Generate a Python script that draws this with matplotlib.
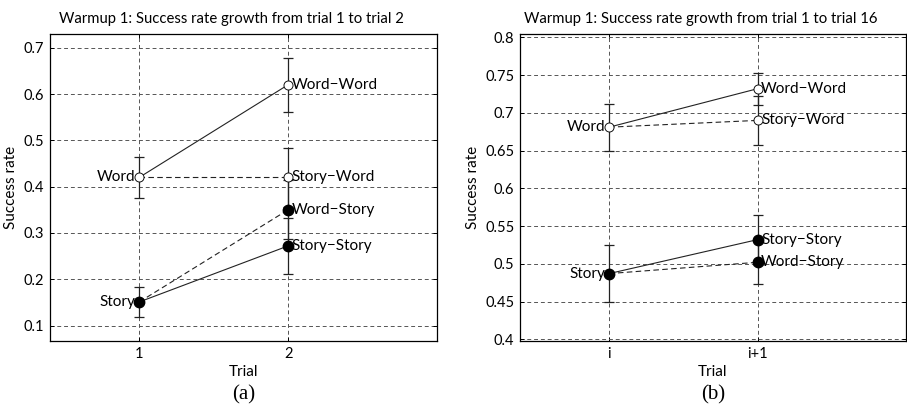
import matplotlib
matplotlib.use('Agg')
import matplotlib.pyplot as plt

plt.rcParams['font.family'] = ['Lato', 'DejaVu Sans']

titles = ['Warmup 1: Success rate growth from trial 1 to trial 2',
          'Warmup 1: Success rate growth from trial 1 to trial 16']
xtick_labels = [['1', '2'], ['i', 'i+1']]
panel_tags = ['(a)', '(b)']

# Panel (a): values at first trial (Word, Story)
start_a = [0.42, 0.151]
start_err_a = [0.044, 0.033]
# values at second trial (Word-Word, Story-Word, Word-Story, Story-Story)
end_a = [0.62, 0.42, 0.35, 0.272]
end_err_a = [0.058, 0.064, 0.064, 0.061]

# Panel (b)
start_b = [0.681, 0.487]
start_err_b = [0.031, 0.038]
end_b = [0.732, 0.690, 0.502, 0.532]
end_err_b = [0.021, 0.032, 0.029, 0.033]

start_names = ['Word', 'Story']
end_names = ['Word\u2212Word', 'Story\u2212Word', 'Word\u2212Story', 'Story\u2212Story']
# which start point each end point is joined to, and the line style
end_from = [0, 0, 1, 1]
end_style = ['-', '--', '--', '-']
end_filled = [False, False, True, True]
start_filled = [False, True]

yticks_a = [0.1, 0.2, 0.3, 0.4, 0.5, 0.6, 0.7]
yticks_b = [0.4, 0.45, 0.5, 0.55, 0.6, 0.65, 0.7, 0.75, 0.8]

fig = plt.figure(figsize=(9.07, 4.09), dpi=100)
ax_a = fig.add_axes([0.0551, 0.1663, 0.4267, 0.7506])
ax_b = fig.add_axes([0.5733, 0.1663, 0.4256, 0.7506])

panels = [
    (ax_a, start_a, start_err_a, end_a, end_err_a, yticks_a, (0.0667, 0.7296)),
    (ax_b, start_b, start_err_b, end_b, end_err_b, yticks_b, (0.3977, 0.8045)),
]

line_col = '#222222'

def draw_marker(ax, x, y, filled):
    if filled:
        ax.plot(x, y, 'o', ms=7.5, color='black', zorder=4)
    else:
        ax.plot(x, y, 'o', ms=6.5, mfc='white', mec='#111111', mew=0.7, zorder=4)

for k, (ax, st, st_err, en, en_err, yt, ylim) in enumerate(panels):
    # connecting lines
    for j in range(4):
        s = end_from[j]
        if end_style[j] == '--':
            ax.plot([1, 2], [st[s], en[j]], color=line_col, lw=0.8, dashes=(5, 3), zorder=2)
        else:
            ax.plot([1, 2], [st[s], en[j]], color=line_col, lw=0.8, zorder=2)
    # error bars
    ax.errorbar([1, 1], st, yerr=st_err, fmt='none', ecolor=line_col, elinewidth=0.9,
                capsize=3.5, capthick=0.9, zorder=3)
    ax.errorbar([2] * 4, en, yerr=en_err, fmt='none', ecolor=line_col, elinewidth=0.9,
                capsize=3.5, capthick=0.9, zorder=3)
    # markers and labels
    for i in range(2):
        draw_marker(ax, 1, st[i], start_filled[i])
        ax.annotate(start_names[i], (1, st[i]), xytext=(-3 if start_filled[i] else -2.5, 0),
                    textcoords='offset points', ha='right', va='center', fontsize=11)
    for j in range(4):
        draw_marker(ax, 2, en[j], end_filled[j])
        ax.annotate(end_names[j], (2, en[j]), xytext=(2.5, 0),
                    textcoords='offset points', ha='left', va='center', fontsize=11)

    ax.set_xlim(0.4, 3.0)
    ax.set_ylim(*ylim)
    ax.set_xticks([1, 2])
    ax.set_xticklabels(xtick_labels[k])
    ax.set_yticks(yt)
    ax.set_yticklabels([('%g' % v) for v in yt])
    ax.tick_params(direction='in', length=3, width=0.7, top=True, right=True,
                   labelsize=10.5, pad=4)
    ax.grid(True, linestyle=(0, (4, 3)), color='#555555', lw=0.7)
    ax.set_axisbelow(True)
    for sp in ax.spines.values():
        sp.set_linewidth(0.9)
    # title sits a little left of the axes centre, as in the original
    ax.set_title(titles[k], fontsize=10.7, pad=8, x=0.469)
    ax.set_xlabel('Trial', fontsize=11, labelpad=3)
    ax.set_ylabel('Success rate', fontsize=11, labelpad=4)
    pos = ax.get_position()
    fig.text((pos.x0 + pos.x1) / 2, 0.035, panel_tags[k], ha='center', va='center',
             fontsize=15, family='Liberation Serif')

fig.savefig('out.png', dpi=100)
